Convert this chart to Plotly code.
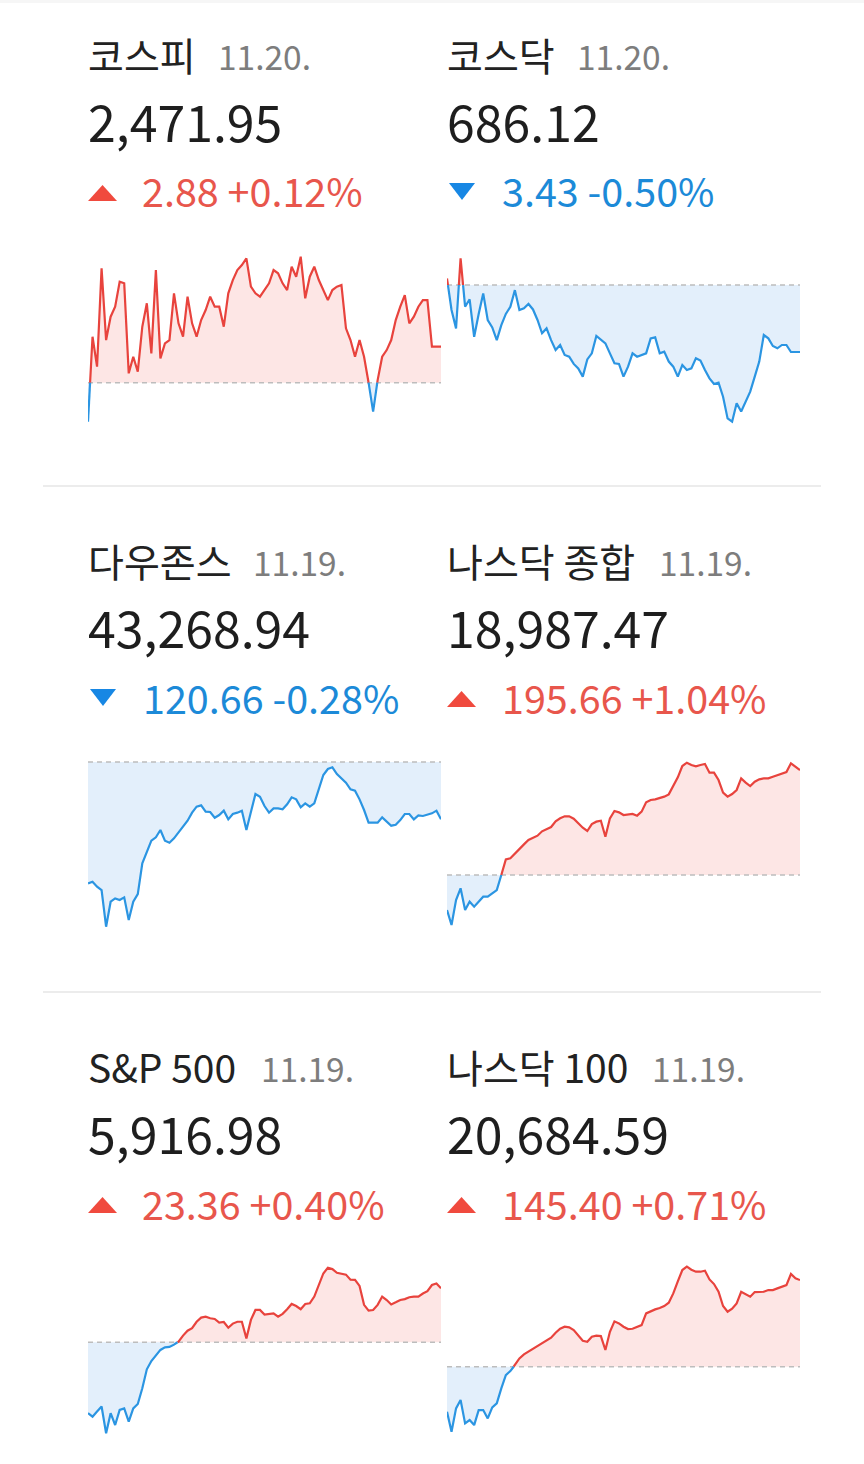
import plotly.graph_objects as go

W, H = 864, 1464

# ---------------- data ----------------
names = ["코스피", "코스닥", "다우존스", "나스닥 종합", "S&P 500", "나스닥 100"]
dates = ["11.20.", "11.20.", "11.19.", "11.19.", "11.19.", "11.19."]
closes = [2471.95, 686.12, 43268.94, 18987.47, 5916.98, 20684.59]
changes = [2.88, -3.43, -120.66, 195.66, 23.36, 145.40]
pcts = [0.12, -0.50, -0.28, 1.04, 0.40, 0.71]
minutes = list(range(0, 391, 5))  # minutes since market open, 5-minute samples

kospi = [2465.95, 2472.75, 2470.35, 2478.22, 2472.48, 2474.35, 2475.15, 2477.15, 2477.02, 2469.82,
         2471.15, 2469.95, 2473.55, 2475.42, 2471.42, 2478.08, 2471.02, 2472.22, 2472.48, 2476.22,
         2473.82, 2472.75, 2475.95, 2473.82, 2472.75, 2474.08, 2474.88, 2475.95, 2475.15, 2475.15,
         2473.55, 2476.22, 2477.28, 2478.08, 2478.48, 2479.02, 2476.75, 2476.22, 2475.95, 2476.48,
         2477.02, 2478.08, 2477.82, 2477.02, 2476.48, 2478.35, 2477.55, 2479.15, 2475.82, 2477.55,
         2478.35, 2477.28, 2476.48, 2475.68, 2476.48, 2476.75, 2476.88, 2473.42, 2472.48, 2471.15,
         2472.48, 2471.15, 2469.07, 2466.75, 2469.28, 2471.15, 2471.68, 2472.48, 2474.08, 2475.15,
         2476.08, 2473.82, 2474.35, 2475.15, 2475.68, 2475.68, 2471.95, 2471.95, 2471.95]

kosdaq = [689.89, 688.27, 687.33, 690.92, 688.44, 688.82, 686.90, 688.07, 689.12, 687.76,
          687.38, 686.73, 687.50, 688.07, 688.44, 689.29, 688.27, 688.36, 688.58, 688.30,
          687.76, 687.08, 687.33, 686.73, 686.22, 686.48, 685.97, 685.88, 685.51, 685.28,
          684.86, 685.74, 686.05, 686.94, 686.73, 686.56, 686.05, 685.54, 685.51, 684.86,
          685.37, 686.05, 685.88, 685.97, 686.05, 686.82, 686.87, 686.05, 686.14, 685.63,
          685.37, 684.86, 685.45, 685.20, 685.28, 685.80, 685.68, 685.20, 684.77, 684.48,
          684.55, 683.83, 682.72, 682.55, 683.49, 683.07, 683.58, 684.09, 684.86, 685.63,
          686.99, 686.82, 686.43, 686.31, 686.48, 686.48, 686.12, 686.12, 686.12]

dow = [43134.3, 43137.8, 43127.2, 43120.2, 43043.1, 43095.7, 43102.7, 43099.2, 43104.8, 43057.1,
       43095.7, 43111.8, 43176.3, 43198.8, 43224.0, 43231.1, 43246.5, 43224.0, 43219.8, 43229.0,
       43240.9, 43252.1, 43266.1, 43283.0, 43295.6, 43298.4, 43285.1, 43284.4, 43272.4, 43278.1,
       43287.2, 43268.9, 43280.2, 43283.0, 43287.2, 43246.5, 43285.1, 43322.3, 43316.6, 43297.0,
       43283.0, 43292.1, 43292.1, 43290.0, 43300.5, 43315.2, 43311.0, 43294.2, 43302.6, 43295.6,
       43302.6, 43334.2, 43362.2, 43374.9, 43378.4, 43364.3, 43355.9, 43346.1, 43332.1, 43329.3,
       43311.0, 43288.6, 43261.9, 43261.9, 43261.9, 43273.2, 43264.0, 43255.6, 43257.7, 43267.5,
       43280.2, 43280.2, 43268.9, 43277.4, 43276.0, 43279.5, 43281.6, 43287.2, 43268.94]

nasdaq_comp = [18726.6, 18698.6, 18745.2, 18767.0, 18726.6, 18742.1, 18732.8, 18742.1, 18751.4, 18751.4,
               18757.6, 18763.8, 18791.8, 18821.0, 18822.9, 18832.2, 18841.5, 18848.9, 18857.0, 18861.4,
               18865.1, 18873.2, 18877.5, 18881.2, 18891.8, 18897.4, 18901.1, 18901.1, 18896.8, 18888.1,
               18880.0, 18873.8, 18886.8, 18891.2, 18893.0, 18863.2, 18897.4, 18911.1, 18908.6, 18903.6,
               18904.8, 18905.5, 18902.4, 18909.8, 18927.2, 18931.6, 18932.8, 18935.3, 18937.8, 18942.1,
               18957.6, 18973.8, 18994.9, 19001.1, 18996.8, 18994.3, 18996.8, 18998.6, 18982.5, 18982.5,
               18968.8, 18945.2, 18937.8, 18942.7, 18950.2, 18971.9, 18963.9, 18957.6, 18965.7, 18970.1,
               18971.9, 18971.9, 18975.0, 18977.5, 18981.2, 18983.7, 18999.9, 18993.7, 18987.47]

sp500 = [5862.9, 5861.4, 5863.6, 5865.8, 5854.2, 5862.9, 5857.8, 5864.3, 5865.0, 5859.3,
         5865.0, 5866.9, 5873.7, 5881.9, 5885.5, 5887.7, 5890.3, 5891.4, 5891.6, 5892.6,
         5893.9, 5896.5, 5898.6, 5899.7, 5902.5, 5904.3, 5904.7, 5904.0, 5903.7, 5902.1,
         5902.4, 5899.9, 5901.7, 5902.5, 5902.5, 5895.3, 5903.3, 5907.6, 5907.6, 5905.6,
         5905.7, 5906.1, 5904.7, 5905.9, 5907.9, 5910.2, 5909.3, 5907.9, 5910.2, 5910.5,
         5913.4, 5918.4, 5923.4, 5925.9, 5925.3, 5923.7, 5923.4, 5922.9, 5920.7, 5920.6,
         5918.0, 5909.8, 5907.3, 5907.6, 5909.8, 5913.4, 5911.9, 5910.0, 5910.9, 5911.9,
         5912.3, 5913.1, 5913.4, 5913.4, 5914.7, 5915.7, 5918.4, 5919.1, 5916.98]

nasdaq100 = [20463.7, 20430.2, 20469.3, 20483.3, 20444.1, 20449.7, 20441.3, 20466.5, 20466.5, 20452.5,
             20471.0, 20477.7, 20502.9, 20525.2, 20531.9, 20542.0, 20553.2, 20559.9, 20564.4, 20569.4,
             20573.9, 20578.3, 20583.9, 20587.9, 20596.2, 20602.9, 20606.3, 20605.2, 20600.7, 20592.3,
             20582.8, 20581.1, 20589.5, 20591.2, 20590.6, 20567.2, 20597.9, 20615.3, 20611.9, 20606.3,
             20602.4, 20602.9, 20606.3, 20609.1, 20628.7, 20632.6, 20635.4, 20637.6, 20641.0, 20646.6,
             20662.2, 20682.4, 20701.4, 20707.0, 20701.9, 20698.6, 20698.6, 20700.2, 20685.7, 20677.9,
             20665.0, 20641.0, 20631.5, 20636.5, 20645.4, 20665.0, 20661.1, 20656.6, 20664.5, 20665.0,
             20665.0, 20667.8, 20667.8, 20670.6, 20673.4, 20676.2, 20694.7, 20687.4, 20684.59]

series = [kospi, kosdaq, dow, nasdaq_comp, sp500, nasdaq100]

# ---------------- styling / layout ----------------
FONT = "Noto Sans CJK KR, Noto Sans, sans-serif"
RED_LINE, BLUE_LINE = "#e8433d", "#2b95e2"
RED_FILL, BLUE_FILL = "#fde6e5", "#e3effb"
RED_TXT, BLUE_TXT = "#e8564c", "#1c8ad8"
RED_TRI, BLUE_TRI = "#f04a3e", "#1787e4"

COL_X = [88, 447]
CHART_X = [(88, 441), (447, 800)]
ROW_OFF = [0, 506, 1012]
# pixel rows of the top and bottom of each sparkline's value range
CHART_Y = [(256.7, 421.7), (258.3, 421.7), (762, 926.7), (762.7, 925), (1267.7, 1433.3), (1266.7, 1431.7)]
DATE_X = [218, 577, 253, 659, 261, 652]
CHG_X = [142, 502, 143, 502, 142, 502]


def px_x(p):
    return p / W


def px_y(p):
    return 1 - p / H


def split_at_zero(ts, vs):
    xs, ys = [ts[0]], [vs[0]]
    for i in range(1, len(vs)):
        a, b = vs[i - 1], vs[i]
        if a * b < 0:
            xs.append(ts[i - 1] + (ts[i] - ts[i - 1]) * a / (a - b))
            ys.append(0.0)
        xs.append(ts[i])
        ys.append(b)
    return xs, ys


fig = go.Figure()
layout_axes = {}
annotations = []
shapes = []

for i, vals in enumerate(series):
    col, row = i % 2, i // 2
    off = ROW_OFF[row]
    prev = closes[i] - changes[i]
    rel = [v - prev for v in vals]
    xs, ys = split_at_zero(minutes, rel)
    ax = "" if i == 0 else str(i + 1)
    xa, ya = "x" + ax, "y" + ax

    pos_fill = [max(y, 0) for y in ys]
    neg_fill = [min(y, 0) for y in ys]
    red = [y if y >= 0 else None for y in ys]
    blue = [y if y <= 0 else None for y in ys]

    fig.add_trace(go.Scatter(x=xs, y=pos_fill, mode="lines", line=dict(width=0, color=RED_FILL),
                             fill="tozeroy", fillcolor=RED_FILL, xaxis=xa, yaxis=ya, hoverinfo="skip"))
    fig.add_trace(go.Scatter(x=xs, y=neg_fill, mode="lines", line=dict(width=0, color=BLUE_FILL),
                             fill="tozeroy", fillcolor=BLUE_FILL, xaxis=xa, yaxis=ya, hoverinfo="skip"))
    fig.add_trace(go.Scatter(x=[minutes[0], minutes[-1]], y=[0, 0], mode="lines",
                             line=dict(width=1.5, color="#bdbdbd", dash="5px,4px"),
                             xaxis=xa, yaxis=ya, hoverinfo="skip"))
    fig.add_trace(go.Scatter(x=xs, y=red, mode="lines", line=dict(width=2.2, color=RED_LINE),
                             connectgaps=False, xaxis=xa, yaxis=ya))
    fig.add_trace(go.Scatter(x=xs, y=blue, mode="lines", line=dict(width=2.2, color=BLUE_LINE),
                             connectgaps=False, xaxis=xa, yaxis=ya))

    lo, hi = min(min(rel), 0), max(max(rel), 0)
    top_px, bot_px = CHART_Y[i]
    upp = (hi - lo) / (bot_px - top_px)
    pad = 2
    x0p, x1p = CHART_X[col]
    layout_axes["xaxis" + ax] = dict(domain=[px_x(x0p), px_x(x1p)], range=[minutes[0], minutes[-1]],
                                     visible=False, anchor=ya, fixedrange=True)
    layout_axes["yaxis" + ax] = dict(domain=[px_y(bot_px + pad), px_y(top_px - pad)],
                                     range=[lo - pad * upp, hi + pad * upp],
                                     visible=False, anchor=xa, fixedrange=True)

    # header texts
    x0 = COL_X[col]
    annotations.append(dict(text=names[i], x=px_x(x0 - 2), y=px_y(off + 54), xref="paper", yref="paper",
                            xanchor="left", yanchor="middle", showarrow=False,
                            font=dict(family=FONT, size=39, color="#222222")))
    annotations.append(dict(text=dates[i], x=px_x(DATE_X[i] - 2), y=px_y(off + 55), xref="paper",
                            yref="paper", xanchor="left", yanchor="middle", showarrow=False,
                            font=dict(family=FONT, size=33.5, color="#7d7d7d")))
    annotations.append(dict(text=f"{closes[i]:,.2f}", x=px_x(x0 - 2), y=px_y(off + 120), xref="paper",
                            yref="paper", xanchor="left", yanchor="middle", showarrow=False,
                            font=dict(family=FONT, size=50, color="#1e1e1e")))
    up = changes[i] >= 0
    annotations.append(dict(text=f"{abs(changes[i]):,.2f} {pcts[i]:+.2f}%", x=px_x(CHG_X[i] - 2),
                            y=px_y(off + 190), xref="paper", yref="paper", xanchor="left",
                            yanchor="middle", showarrow=False,
                            font=dict(family=FONT, size=39.5, color=RED_TXT if up else BLUE_TXT)))
    if up:
        tx0, tx1, ty_base, ty_apex = x0, x0 + 29, off + 201, off + 185
    else:
        tx0, tx1, ty_base, ty_apex = x0 + 2, x0 + 28, off + 183, off + 200
    path = (f"M {px_x(tx0)} {px_y(ty_base)} L {px_x(tx1)} {px_y(ty_base)} "
            f"L {px_x((tx0 + tx1) / 2)} {px_y(ty_apex)} Z")
    shapes.append(dict(type="path", xref="paper", yref="paper", path=path,
                       fillcolor=RED_TRI if up else BLUE_TRI, line=dict(width=0)))

# separators and top edge
for sy in [486, 992]:
    shapes.append(dict(type="line", xref="paper", yref="paper", x0=px_x(43), x1=px_x(821),
                       y0=px_y(sy), y1=px_y(sy), line=dict(color="#ececec", width=2)))
shapes.append(dict(type="rect", xref="paper", yref="paper", x0=0, x1=1, y0=px_y(3), y1=1,
                   fillcolor="#f6f6f6", line=dict(width=0), layer="below"))

fig.update_layout(width=W, height=H, margin=dict(l=0, r=0, t=0, b=0),
                  paper_bgcolor="white", plot_bgcolor="rgba(0,0,0,0)",
                  showlegend=False, annotations=annotations, shapes=shapes,
                  hovermode=False, **layout_axes)

fig.write_html("out.html", config={"displayModeBar": False},
               post_script="document.body.style.margin='0';document.body.style.overflow='hidden';")
